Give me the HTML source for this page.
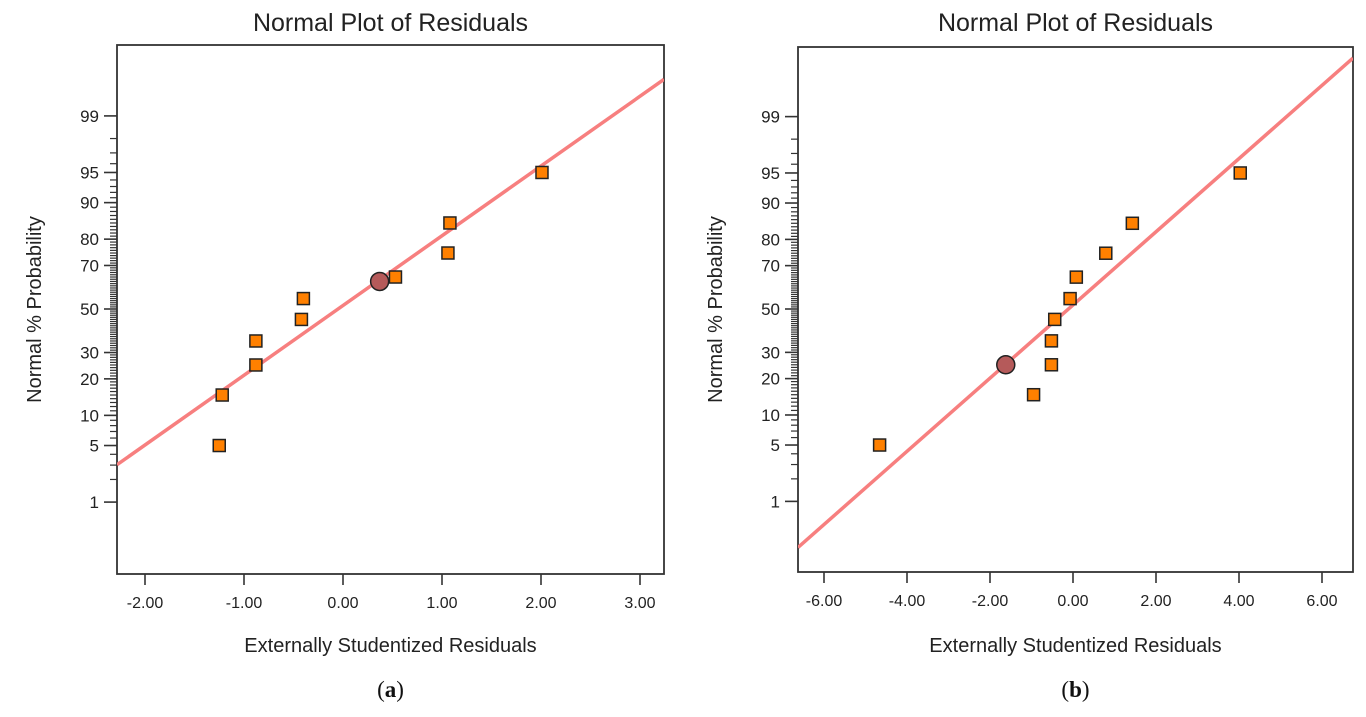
<!DOCTYPE html>
<html><head><meta charset="utf-8"><style>
html,body{margin:0;padding:0;background:#fff;}
svg{display:block;font-family:"Liberation Sans","DejaVu Sans",sans-serif;}
</style></head><body>
<svg id="fig" width="1366" height="717" viewBox="0 0 1366 717"></svg>
<script>
// ---- Data: panel (a)
const residA = [-1.25, -1.22, -0.88, -0.88, -0.42, -0.40, 0.53, 1.06, 1.08, 2.01];
const probA  = [5, 15, 25, 35, 45, 55, 65, 75, 85, 95];
const highlightA = [0.37, 63];
const lineA = [-0.05, 1.19]; // mean, sd
const xTicksA = [-2, -1, 0, 1, 2, 3];
// ---- Data: panel (b)
const residB = [-4.66, -0.95, -0.52, -0.52, -0.44, -0.07, 0.08, 0.79, 1.43, 4.03];
const probB  = [5, 15, 25, 35, 45, 55, 65, 75, 85, 95];
const highlightB = [-1.62, 25];
const lineB = [-0.11, 2.26];
const xTicksB = [-6, -4, -2, 0, 2, 4, 6];
const yTicks = [1, 5, 10, 20, 30, 50, 70, 80, 90, 95, 99];

const NS = "http://www.w3.org/2000/svg";
const svg = document.getElementById('fig');
function mk(tag, attrs, parent, text){
  const e = document.createElementNS(NS, tag);
  for (const k in attrs) e.setAttribute(k, attrs[k]);
  if (text !== undefined) e.textContent = text;
  (parent || svg).appendChild(e);
  return e;
}
function erfinv(x){const a=0.147;const ln=Math.log(1-x*x);const t=2/(Math.PI*a)+ln/2;return Math.sign(x)*Math.sqrt(Math.sqrt(t*t-ln/a)-t);}
function erf(x){const s=Math.sign(x);x=Math.abs(x);const t=1/(1+0.3275911*x);
  const y=1-(((((1.061405429*t-1.453152027)*t)+1.421413741)*t-0.284496736)*t+0.254829592)*t*Math.exp(-x*x);return s*y;}
function probit(p){
  let z = Math.SQRT2*erfinv(2*p-1);
  for(let i=0;i<3;i++){const c=0.5*(1+erf(z/Math.SQRT2));z-=(c-p)/(Math.exp(-z*z/2)/Math.sqrt(2*Math.PI));}
  return z;
}

function panel(cfg){
  const g = mk('g', {});
  
  
  const X = v => cfg.x0 + v*cfg.xs;
  const Y = p => cfg.y50 - probit(p/100)*cfg.zs;
  const t = mk('text', {x:(cfg.L+cfg.R)/2, y:31, 'text-anchor':'middle', 'font-size':25, fill:'#222'}, g, 'Normal Plot of Residuals');
  
  
  const box = mk('rect', {x:cfg.L, y:cfg.T, width:cfg.R-cfg.L, height:cfg.B-cfg.T, fill:'none', stroke:'#333', 'stroke-width':1.8}, g);
  
  
  const minors = [2,3,4];
  for(let p=6;p<95;p++) minors.push(p);
  minors.push(96,97,98);
  minors.forEach(p=>{ if(yTicks.includes(p)) return; const y=Y(p);
    mk('line',{x1:cfg.L-7,x2:cfg.L,y1:y,y2:y,stroke:'#333','stroke-width':1.2},g);});
  yTicks.forEach(p=>{ const y=Y(p);
    mk('line',{x1:cfg.L-13,x2:cfg.L,y1:y,y2:y,stroke:'#333','stroke-width':1.6},g);
    const tl = mk('text',{x:cfg.L-18,y:y+6,'text-anchor':'end','font-size':17,fill:'#222'},g,String(p));
    
    
  });
  cfg.xt.forEach(v=>{ const x=X(v);
    mk('line',{x1:x,x2:x,y1:cfg.B,y2:cfg.B+11,stroke:'#333','stroke-width':1.6},g);
    const tl = mk('text',{x:x,y:cfg.B+34,'text-anchor':'middle','font-size':16,fill:'#222'},g,v.toFixed(2));
    
    
  });
  const xa = mk('text',{x:(cfg.L+cfg.R)/2,y:652,'text-anchor':'middle','font-size':20,fill:'#222'},g,'Externally Studentized Residuals');
  
  
  const yx = cfg.L-76, yy=(cfg.T+cfg.B)/2;
  const ya = mk('text',{x:yx,y:yy,'text-anchor':'middle','font-size':20,fill:'#222',transform:`rotate(-90 ${yx} ${yy})`},g,'Normal % Probability');
  
  
  const cid = 'clip'+cfg.name;
  const cp = mk('clipPath',{id:cid},g);
  mk('rect',{x:cfg.L,y:cfg.T,width:cfg.R-cfg.L,height:cfg.B-cfg.T},cp);
  const [m,sd] = cfg.line;
  const vL=(cfg.L-cfg.x0)/cfg.xs, vR=(cfg.R-cfg.x0)/cfg.xs;
  const zy = v => cfg.y50 - ((v-m)/sd)*cfg.zs;
  const fl = mk('line',{x1:cfg.L,y1:zy(vL),x2:cfg.R,y2:zy(vR),stroke:'#f77f7f','stroke-width':3.5,'clip-path':`url(#${cid})`},g);
  
  
  cfg.xs_.forEach((v,i)=>{
    const r = mk('rect',{x:X(v)-6,y:Y(cfg.ps[i])-6,width:12,height:12,fill:'#ff8000',stroke:'#222','stroke-width':1.5},g);
    
    
  });
  const c = mk('circle',{cx:X(cfg.hl[0]),cy:Y(cfg.hl[1]),r:9,fill:'#b55a5a',stroke:'#222','stroke-width':1.5},g);
  
  
  const lab = mk('text',{x:(cfg.L+cfg.R)/2,y:697,'text-anchor':'middle','font-size':23,fill:'#111','font-family':'"Liberation Serif",serif'},g);
  
  
  mk('tspan',{},lab,'(');
  mk('tspan',{'font-weight':'bold'},lab,cfg.label);
  mk('tspan',{},lab,')');
}
panel({name:'panel-a',L:117,R:664,T:45,B:574,x0:343,xs:99,y50:309,zs:83,xt:xTicksA,line:lineA,xs_:residA,ps:probA,hl:highlightA,label:'a'});
panel({name:'panel-b',L:798,R:1353,T:47,B:572,x0:1073,xs:41.5,y50:309,zs:82.7,xt:xTicksB,line:lineB,xs_:residB,ps:probB,hl:highlightB,label:'b'});
</script>
</body></html>
